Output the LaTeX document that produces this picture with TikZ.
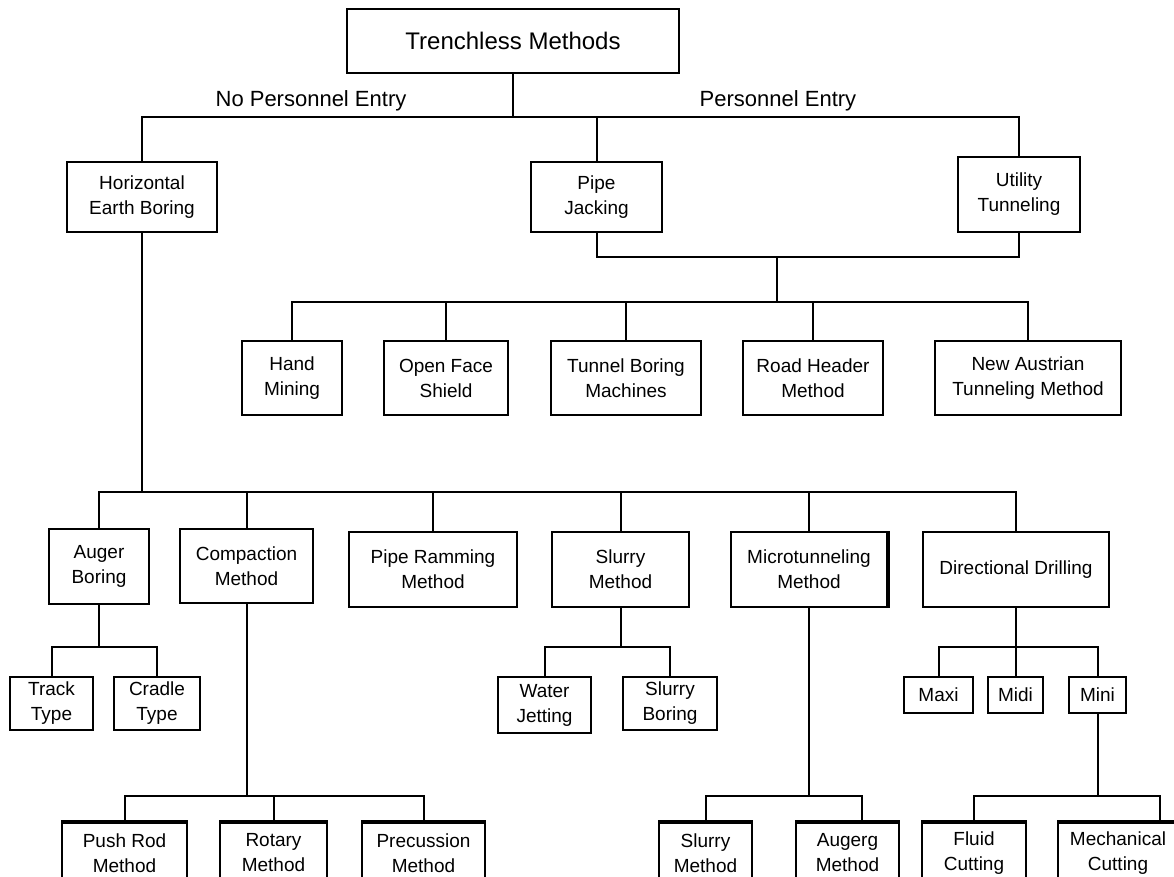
\documentclass[tikz,border=0pt]{standalone}
\usepackage{fontspec}
\setmainfont{Liberation Sans}
\usepackage{tikz}
\usetikzlibrary{calc}

\tikzset{
box/.style={draw,black,line width=1pt,align=center,inner sep=0pt,font=\fontsize{9.5}{12.5}\selectfont},
sz/.style 2 args={minimum width=#1*0.5pt,minimum height=#2*0.5pt},
lbl/.style={font=\fontsize{11}{13}\selectfont,inner sep=0pt}
}

\begin{document}
\begin{tikzpicture}[x=0.5pt,y=-0.5pt,line width=1pt]
\useasboundingbox (0,0) rectangle (1174,877);

% top level
\node[box,sz={332}{64},font=\fontsize{12}{14}\selectfont] (root) at (513,41) {Trenchless Methods};
\node[lbl] (npe) at (311,101) {No Personnel Entry};
\node[lbl] (pe) at (778,101) {Personnel Entry};

\node[box,sz={150}{70}] (heb) at (142,197) {Horizontal\\Earth Boring};
\node[box,sz={131}{70}] (pj) at (596.5,197) {Pipe\\Jacking};
\node[box,sz={122}{75}] (ut) at (1019,194.5) {Utility\\Tunneling};

% personnel entry methods
\node[box,sz={100}{74}] (hm) at (292,378) {Hand\\Mining};
\node[box,sz={124}{74}] (ofs) at (446,378) {Open Face\\Shield};
\node[box,sz={150}{74}] (tbm) at (626,378) {Tunnel Boring\\Machines};
\node[box,sz={140}{74}] (rh) at (813,378) {Road Header\\Method};
\node[box,sz={186}{74}] (natm) at (1028,378) {New Austrian\\Tunneling Method};

% horizontal earth boring methods
\node[box,sz={100}{75}] (ab) at (99,566.5) {Auger\\Boring};
\node[box,sz={133}{74}] (cm) at (246.5,566) {Compaction\\Method};
\node[box,sz={168}{75}] (prm) at (433,569.5) {Pipe Ramming\\Method};
\node[box,sz={137}{75}] (sl) at (620.5,569.5) {Slurry\\Method};
\node[box,sz={156}{75}] (mt) at (809,569.5) {Microtunneling\\Method};
\node[box,sz={186}{75}] (dd) at (1016,569.5) {Directional Drilling};

\node[box,sz={83}{53}] (tt) at (51.5,703.5) {Track\\Type};
\node[box,sz={86}{53}] (ct) at (157,703.5) {Cradle\\Type};
\node[box,sz={93}{56}] (wj) at (544.5,705) {Water\\Jetting};
\node[box,sz={94}{53}] (sb) at (670,703.5) {Slurry\\Boring};
\node[box,sz={69}{36}] (maxi) at (938.5,695) {Maxi};
\node[box,sz={55}{36}] (midi) at (1015.5,695) {Midi};
\node[box,sz={57}{36}] (mini) at (1097.5,695) {Mini};

% bottom row (cut off by the page)
\node[box,sz={125}{60}] (pr) at (124.5,853) {Push Rod\\Method};
\node[box,sz={107}{60}] (rot) at (273.5,853) {Rotary\\Method};
\node[box,sz={123}{60}] (prc) at (423.5,853) {Precussion\\Method};
\node[box,sz={93}{60}] (sm) at (705.5,853) {Slurry\\Method};
\node[box,sz={103}{60}] (aug) at (847.5,853) {Augerg\\Method};
\node[box,sz={104}{60}] (fc) at (974,853) {Fluid\\Cutting};
\node[box,sz={120}{60}] (mc) at (1118,853) {Mechanical\\Cutting};

\foreach \n in {pr,rot,prc,sm,aug,fc,mc}
\draw[line width=2pt] (\n.north west) -- (\n.north east);
\draw[line width=2pt] (mt.north east) -- (mt.south east);

% connectors
\coordinate (b1) at (513,117);
\draw (root.south) -- (b1);
\draw (heb.north) |- (b1) -| (ut.north);
\draw (pj.north) -- (pj.north |- b1);

\coordinate (b2) at (777,257);
\coordinate (b3) at (777,302);
\draw (pj.south) |- (b2) -| (ut.south);
\draw (b2) -- (b3);
\draw (hm.north) |- (b3) -| (natm.north);
\foreach \n in {ofs,tbm,rh}
\draw (\n.north) -- (\n.north |- b3);

\coordinate (b4) at (142,492);
\draw (heb.south) -- (b4);
\draw (ab.north) |- (b4) -| (dd.north);
\foreach \n in {cm,prm,sl,mt}
\draw (\n.north) -- (\n.north |- b4);

\coordinate (b5) at (99,647);
\draw (ab.south) -- (b5);
\draw (tt.north) |- (b5) -| (ct.north);

\coordinate (b6) at (246.5,796);
\draw (cm.south) -- (b6);
\draw (pr.north) |- (b6) -| (prc.north);
\draw (rot.north) -- (rot.north |- b6);

\coordinate (b7) at (620.5,647);
\draw (sl.south) -- (b7);
\draw (wj.north) |- (b7) -| (sb.north);

\coordinate (b8) at (809,796);
\draw (mt.south) -- (b8);
\draw (sm.north) |- (b8) -| ([xshift=7pt]aug.north);

\coordinate (b9) at (1016,647);
\draw (dd.south) -- (b9);
\draw (maxi.north) |- (b9) -| (mini.north);
\draw (midi.north) -- (midi.north |- b9);

\coordinate (b10) at (1097.5,796);
\draw (mini.south) -- (b10);
\draw (fc.north) |- (b10) -| ([xshift=21pt]mc.north);

\end{tikzpicture}
\end{document}
